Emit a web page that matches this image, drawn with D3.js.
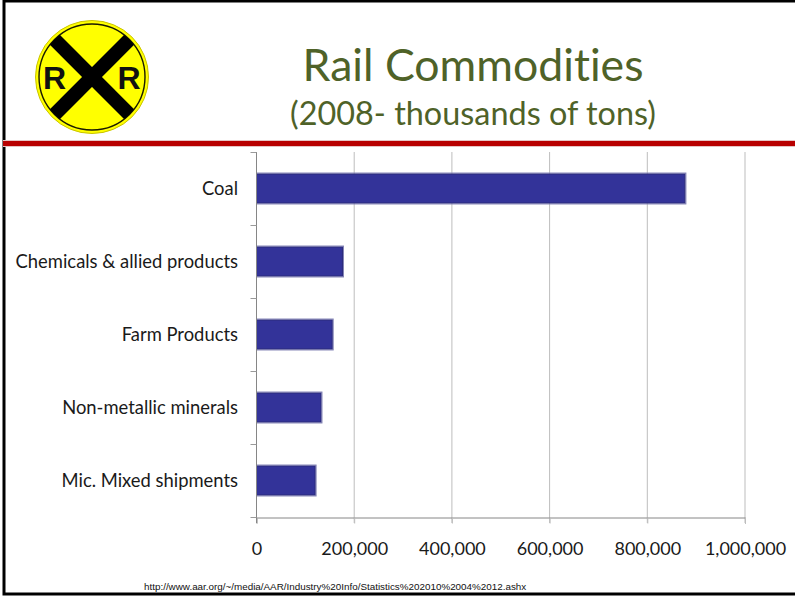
<!DOCTYPE html>
<html>
<head>
<meta charset="utf-8">
<script src="https://cdnjs.cloudflare.com/ajax/libs/d3/7.8.5/d3.min.js"></script>
<style>
html,body{margin:0;padding:0;background:#fff;overflow:hidden}
svg{display:block}
text{font-family:Lato,"Open Sans",sans-serif;font-variant-ligatures:none}
</style>
</head>
<body>
<svg id="slide" width="795" height="597"></svg>
<script>
const categories = ["Coal", "Chemicals & allied products", "Farm Products", "Non-metallic minerals", "Mic. Mixed shipments"];
const tons = [878000, 177000, 156000, 133000, 121000];
const xTicks = [0, 200000, 400000, 600000, 800000, 1000000];
const titleLine = "Rail Commodities";
const subtitleLine = "(2008- thousands of tons)";
const sourceLine = "http://www.aar.org/~/media/AAR/Industry%20Info/Statistics%202010%2004%2012.ashx";

const svg = d3.select("#slide");

// slide frame
svg.append("rect").attr("x", 4).attr("y", 1).attr("width", 800).attr("height", 593)
  .attr("fill", "#fff").attr("stroke", "#000").attr("stroke-width", 3);

// header rule
svg.append("rect").attr("x", 3).attr("y", 140).attr("width", 792).attr("height", 7).attr("fill", "#e6c4c4");
svg.append("rect").attr("x", 3).attr("y", 141).attr("width", 792).attr("height", 5).attr("fill", "#b80000");

// headings
svg.append("text").attr("x", 473).attr("y", 81).attr("text-anchor", "middle")
  .attr("font-size", 44.6).attr("fill", "#4f6228").text(titleLine);
svg.append("text").attr("x", 473).attr("y", 125).attr("text-anchor", "middle")
  .attr("font-size", 32.4).attr("fill", "#4f6228").text(subtitleLine);

// railroad crossing sign
const sign = svg.append("g").attr("transform", "translate(92,77)");
sign.append("circle").attr("r", 56.5).attr("fill", "#ffff00").attr("stroke", "#c9c400").attr("stroke-width", 1);
sign.append("circle").attr("r", 53).attr("fill", "none").attr("stroke", "#1a1a00").attr("stroke-width", 1.4);
const armClip = sign.append("clipPath").attr("id", "signFace");
armClip.append("circle").attr("r", 53);
const arms = sign.append("g").attr("clip-path", "url(#signFace)");
[45, -45].forEach(a => arms.append("rect")
  .attr("x", -60).attr("y", -7).attr("width", 120).attr("height", 14)
  .attr("fill", "#000").attr("transform", `rotate(${a})`));
[["R", -37.5], ["R", 37]].forEach(([t, dx]) => sign.append("text")
  .attr("x", dx).attr("y", 12).attr("text-anchor", "middle")
  .attr("font-size", 32).attr("font-weight", 700)
  .style("font-family", "'Liberation Sans',sans-serif").attr("fill", "#111").text(t));

// plot area
const x = d3.scaleLinear().domain([0, 1000000]).range([256.5, 745]);
const y = d3.scaleBand().domain(categories).range([152, 517]).paddingInner(0.59).paddingOuter(0.295);

// vertical gridlines with their tick stubs below the axis
svg.append("g").selectAll("line").data(xTicks.slice(1)).join("line")
  .attr("x1", d => x(d)).attr("x2", d => x(d))
  .attr("y1", 152).attr("y2", 523)
  .attr("stroke", "#bdbdbd").attr("stroke-width", 1);

// bars: pale outer edge under a darker inner edge
const bars = svg.append("g");
bars.selectAll("rect.edge").data(categories).join("rect").attr("class", "edge")
  .attr("x", x(0))
  .attr("y", d => y(d) - 0.5)
  .attr("width", (d, i) => x(tons[i]) - x(0) + 0.5)
  .attr("height", y.bandwidth() + 1)
  .attr("fill", "none")
  .attr("stroke", "#8080b4")
  .attr("stroke-width", 1);
bars.selectAll("rect.body").data(categories).join("rect").attr("class", "body")
  .attr("x", x(0))
  .attr("y", d => y(d) + 0.5)
  .attr("width", (d, i) => x(tons[i]) - x(0) - 0.5)
  .attr("height", y.bandwidth() - 1)
  .attr("fill", "#333399")
  .attr("stroke", "#29297a")
  .attr("stroke-width", 1);

// x axis
const xAxis = d3.axisBottom(x).tickValues(xTicks).tickFormat(d3.format(",")).tickSize(6).tickPadding(19);
const gx = svg.append("g").attr("transform", "translate(0,517.5)").call(xAxis);
gx.select(".domain").attr("stroke", "#868686");
gx.selectAll(".tick line").attr("stroke", "#bdbdbd");
gx.selectAll("text").attr("font-size", 18).attr("fill", "#1a1a1a");

// y axis: ticks sit between categories
const gy = svg.append("g");
gy.append("line").attr("x1", x(0)).attr("x2", x(0)).attr("y1", 152).attr("y2", 523).attr("stroke", "#868686");
const step = y.step();
gy.selectAll("line.cat").data(d3.range(categories.length + 1)).join("line").attr("class", "cat")
  .attr("x1", x(0) - 6).attr("x2", x(0))
  .attr("y1", i => 152.5 + i * step).attr("y2", i => 152.5 + i * step)
  .attr("stroke", "#9a9a9a");
gy.selectAll("text").data(categories).join("text")
  .attr("x", 238).attr("y", d => y(d) + y.bandwidth() / 2 + 6)
  .attr("text-anchor", "end").attr("font-size", 18.4).attr("fill", "#1a1a1a").text(d => d);

// source note
svg.append("text").attr("x", 144).attr("y", 590)
  .style("font-family", "'Liberation Sans',sans-serif").attr("font-size", 9.85).attr("fill", "#111").text(sourceLine);
</script>
</body>
</html>
